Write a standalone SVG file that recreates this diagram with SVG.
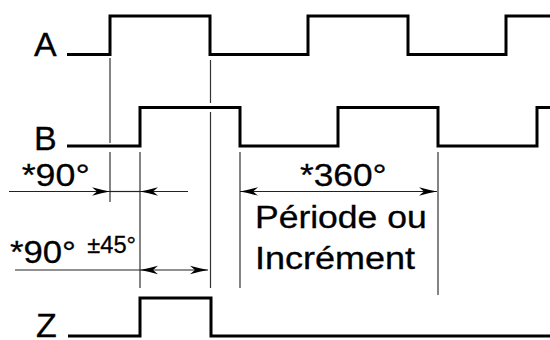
<svg xmlns="http://www.w3.org/2000/svg" width="550" height="340" viewBox="0 0 550 340">
<defs>
<style>
.wave{fill:none;stroke:#000;stroke-width:3;stroke-linejoin:miter;stroke-linecap:butt}
.guide{fill:none;stroke:#333;stroke-width:1.2}
.dim{fill:none;stroke:#222;stroke-width:1.2}
.lbl{font-family:"Liberation Sans",Arial,sans-serif;fill:#000;stroke:#000;stroke-width:0.3}
</style>
<marker id="arr" markerUnits="userSpaceOnUse" markerWidth="20" markerHeight="10" refX="19" refY="5" orient="auto-start-reverse">
<path d="M19,5 Q11,3.6 1,0.8 L6,5 L1,9.2 Q11,6.4 19,5 Z" fill="#000"/>
</marker>
</defs>
<rect width="550" height="340" fill="#fff"/>
<g id="signal-A">
<path class="wave" d="M67,54.5 H110 V16 H210 V54.5 H308 V16 H408 V54.5 H506 V16 H550"/>
<text class="lbl" x="34" y="56" font-size="34">A</text>
</g>
<g id="signal-B">
<path class="wave" d="M67,146 H140 V107.5 H240 V146 H338 V107.5 H438 V146 H537 V107.5 H550"/>
<text class="lbl" x="34" y="150" font-size="34">B</text>
</g>
<g id="signal-Z">
<path class="wave" d="M68,336 H140 V298 H211 V336 H550"/>
<text class="lbl" x="36" y="337" font-size="34">Z</text>
</g>
<g id="connectors">
<path class="guide" d="M110,58 V143 M110,152 V202 M140,152 V288 M210.5,60 V103 M210.5,112 V288 M240,152 V288 M438,152 V295"/>
<line class="dim" x1="9" y1="191.5" x2="110" y2="191.5" marker-end="url(#arr)"/>
<line class="dim" x1="110" y1="191.5" x2="140" y2="191.5"/>
<line class="dim" x1="188" y1="191.5" x2="140" y2="191.5" marker-end="url(#arr)"/>
<line class="dim" x1="15" y1="270" x2="140" y2="270"/>
<line class="dim" x1="140" y1="270" x2="208" y2="270" marker-start="url(#arr)" marker-end="url(#arr)"/>
<line class="dim" x1="240" y1="191.5" x2="437" y2="191.5" marker-start="url(#arr)" marker-end="url(#arr)"/>
</g>
<g id="labels">
<text class="lbl" x="21.7" y="186" font-size="32" textLength="68" lengthAdjust="spacingAndGlyphs">*90°</text>
<text class="lbl" x="10" y="263" font-size="32" textLength="66" lengthAdjust="spacingAndGlyphs">*90°</text>
<text class="lbl" x="87.3" y="252.5" font-size="24" textLength="48.7" lengthAdjust="spacingAndGlyphs">±45°</text>
<text class="lbl" x="300" y="186" font-size="32" textLength="86.7" lengthAdjust="spacingAndGlyphs">*360°</text>
<text class="lbl" x="255" y="227.5" font-size="31" textLength="171.7" lengthAdjust="spacingAndGlyphs">Période ou</text>
<text class="lbl" x="255" y="269.3" font-size="31" textLength="160" lengthAdjust="spacingAndGlyphs">Incrément</text>
</g>
</svg>
